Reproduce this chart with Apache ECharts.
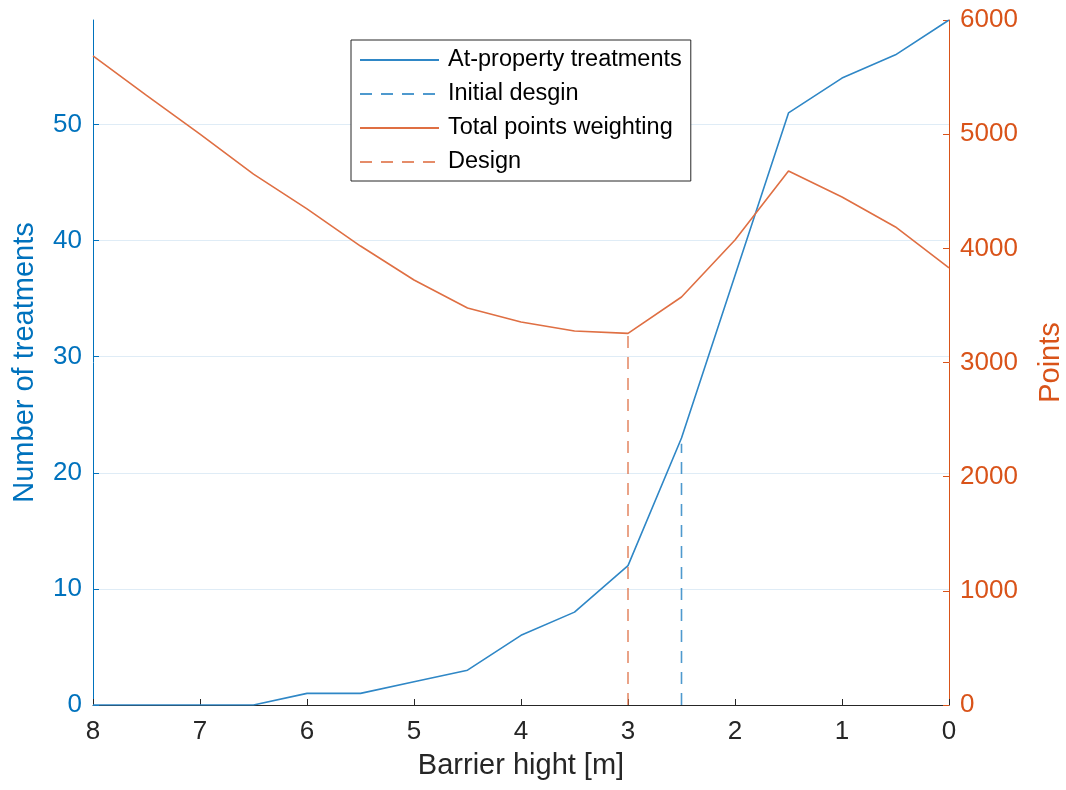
<!DOCTYPE html>
<html><head><meta charset="utf-8">
<script src="https://cdn.jsdelivr.net/npm/echarts@6/dist/echarts.min.js"></script>
<style>html,body{margin:0;padding:0;background:#fff}#c{width:1066px;height:790px}</style>
</head><body><div id="c"></div>
<script>
const heights = [8,7.5,7,6.5,6,5.5,5,4.5,4,3.5,3,2.5,2,1.5,1,0.5,0];
const treatments = [0,0,0,0,1,1,2,3,6,8,12,23,37,51,54,56,59];
const points = [5685,5340,5000,4650,4345,4020,3723,3477,3355,3276,3255,3574,4073,4677,4450,4187,3828];
const initialDesign = [[2.5,0],[2.5,22.5]];
const design = [[3,0],[3,3255]];
const leftTicks = [0,10,20,30,40,50];
const rightTicks = [0,1000,2000,3000,4000,5000,6000];
const xTicks = [0,1,2,3,4,5,6,7,8];

const BLUE = '#0072BD', ORANGE = '#D95319';
const LBLUE = '#2f87c6', LORANGE = '#df6f43';
const FONT = 'Liberation Sans';
const chart = echarts.init(document.getElementById('c'), null, {renderer:'canvas'});
chart.setOption({
  animation:false,
  textStyle:{fontFamily:FONT},
  grid:{left:93, right:117, top:20, bottom:85, containLabel:false, outerBoundsMode:'none'},
  legend:{
    orient:'vertical', left:351, top:40,
    backgroundColor:'#fff', borderColor:'#262626', borderWidth:1,
    padding:[8,9,7,8], itemGap:10, itemWidth:79, itemHeight:24,
    itemStyle:{opacity:0},
    textStyle:{fontFamily:FONT, fontSize:23.5, lineHeight:24, color:'#000', padding:[0,0,0,4]},
    data:['At-property treatments','Initial desgin','Total points weighting','Design']
  },
  xAxis:{
    type:'value', inverse:true, min:0, max:8, interval:1,
    name:'Barrier hight [m]', nameLocation:'middle', nameGap:46,
    nameTextStyle:{fontSize:29, color:'#262626'},
    axisLine:{onZero:false, lineStyle:{color:'#262626', width:1}},
    axisTick:{inside:true, length:6, lineStyle:{color:'#262626'}},
    axisLabel:{fontSize:26, color:'#262626', margin:14, customValues:xTicks},
    splitLine:{show:false}
  },
  yAxis:[{
    type:'value', min:0, max:59, position:'left',
    name:'Number of treatments', nameLocation:'middle', nameGap:54, nameRotate:90,
    nameTextStyle:{fontSize:29, color:BLUE},
    axisLine:{show:true, onZero:false, lineStyle:{color:BLUE, width:1}},
    axisTick:{show:true, inside:true, length:6, customValues:leftTicks, lineStyle:{color:BLUE}},
    axisLabel:{fontSize:26, color:BLUE, margin:11, customValues:leftTicks},
    splitLine:{show:true, lineStyle:{color:'#dfecf6', width:1}}
  },{
    type:'value', min:0, max:6000, interval:1000, position:'right',
    name:'Points', nameLocation:'middle', nameGap:87, nameRotate:90,
    nameTextStyle:{fontSize:29, color:ORANGE},
    axisLine:{show:true, onZero:false, lineStyle:{color:ORANGE, width:1}},
    axisTick:{show:true, inside:true, length:6, customValues:rightTicks, lineStyle:{color:ORANGE}},
    axisLabel:{fontSize:26, color:ORANGE, margin:11, customValues:rightTicks, formatter:v=>String(v)},
    splitLine:{show:false}
  }],
  series:[
    {name:'At-property treatments', type:'line', yAxisIndex:0, symbol:'none',
     data:heights.map((h,i)=>[h,treatments[i]]), lineStyle:{color:LBLUE, width:1.6}, itemStyle:{color:LBLUE}, z:3},
    {name:'Initial desgin', type:'line', yAxisIndex:0, symbol:'none',
     data:initialDesign, lineStyle:{color:LBLUE, width:1.6, type:[12,9], opacity:0.85}, itemStyle:{color:LBLUE}},
    {name:'Total points weighting', type:'line', yAxisIndex:1, symbol:'none',
     data:heights.map((h,i)=>[h,points[i]]), lineStyle:{color:LORANGE, width:1.6}, itemStyle:{color:LORANGE}},
    {name:'Design', type:'line', yAxisIndex:1, symbol:'none',
     data:design, lineStyle:{color:LORANGE, width:1.6, type:[12,9], opacity:0.8}, itemStyle:{color:LORANGE}}
  ]
});
</script></body></html>
